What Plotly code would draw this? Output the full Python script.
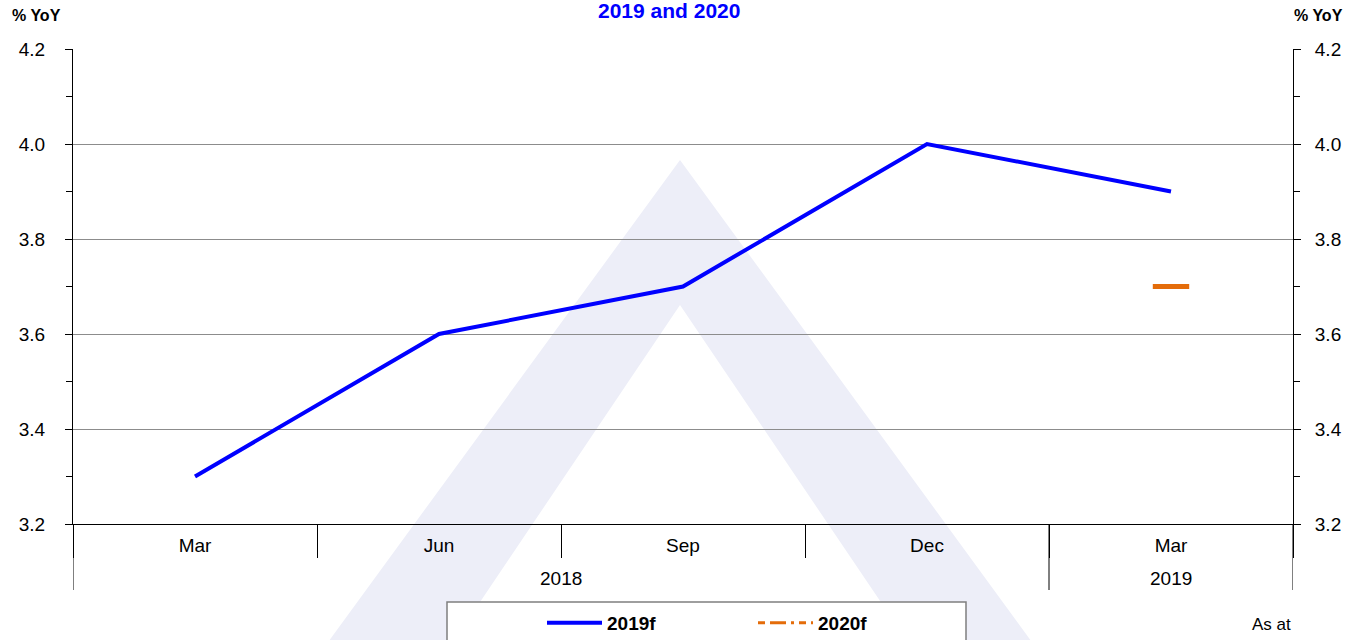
import plotly.graph_objects as go

years = ["2018", "2018", "2018", "2018", "2019"]
quarters = ["Mar", "Jun", "Sep", "Dec", "Mar"]
f2019 = [3.3, 3.6, 3.7, 4.0, 3.9]
f2020 = [None, None, None, None, 3.7]
y_ticks = [3.2, 3.4, 3.6, 3.8, 4.0, 4.2]

BLUE = "#0000FF"
ORANGE = "#E46C0A"
FONT = "Liberation Sans, Arial, sans-serif"

def px_x(p):
    return (p - 73) / 1220.0

def px_y(p):
    return (524 - p) / 475.0

cats = [q + " " + y for q, y in zip(quarters, years)]

fig = go.Figure()
fig.add_trace(go.Scatter(x=cats, y=f2019, name="2019f", mode="lines",
                         line=dict(color=BLUE, width=4)))
fig.add_trace(go.Scatter(x=cats, y=f2020, name="2020f", mode="lines",
                         line=dict(color=ORANGE, width=3, dash="7px,5px,16px,5px,3px,5px"),
                         legendgroup="f20", yaxis="y2"))
fig.add_trace(go.Scatter(x=cats, y=f2020, name="2020f", mode="markers",
                         marker=dict(symbol="line-ew", size=26, color=ORANGE,
                                     line=dict(color=ORANGE, width=5)),
                         legendgroup="f20", showlegend=False, yaxis="y2"))

# watermark chevron (decorative background)
wm = "M {a},{b} L {c},{d} L {e},{d} L {a},{f} L {g},{d} L {h},{d} Z".format(
    a=px_x(680), b=px_y(160), c=px_x(315), d=px_y(660), e=px_x(441), f=px_y(305),
    g=px_x(920), h=px_x(1045))

shapes = [
    dict(type="path", path=wm, xref="paper", yref="paper", fillcolor="#EDEEF8",
         line=dict(width=0), layer="below"),
    dict(type="rect", xref="paper", yref="paper", x0=px_x(447), x1=px_x(966),
         y0=px_y(602), y1=px_y(660), fillcolor="white",
         line=dict(color="#7F7F7F", width=1.5), layer="below"),
]

# year group labels and dividers derived from the category lists
annotations = []
groups = []
for i, yr in enumerate(years):
    if not groups or groups[-1][0] != yr:
        groups.append([yr, i, i])
    else:
        groups[-1][2] = i
bounds = set()
for yr, i0, i1 in groups:
    annotations.append(dict(text=yr, x=(i0 + i1) / 2.0, xref="x", y=px_y(578), yref="paper",
                            showarrow=False, xanchor="center", yanchor="middle",
                            font=dict(family=FONT, size=19, color="black")))
    bounds.add(i0 - 0.5)
    bounds.add(i1 + 0.5)
for b in sorted(bounds):
    shapes.append(dict(type="line", xref="x", yref="paper", x0=b, x1=b, y0=0, y1=px_y(590),
                       line=dict(color="black", width=1)))

yax = dict(range=[3.2, 4.2], tickvals=y_ticks,
           ticktext=["%.1f" % v for v in y_ticks],
           ticks="outside", ticklen=7, tickcolor="black", tickwidth=1,
           minor=dict(ticks="outside", dtick=0.1, ticklen=6, tickcolor="black", showgrid=False),
           showline=True, linecolor="black", linewidth=1, automargin=False,
           tickfont=dict(family=FONT, size=19, color="black"), zeroline=False)

annotations += [
    dict(text="<b>2019 and 2020</b>", x=px_x(669), y=px_y(10), xref="paper", yref="paper",
         showarrow=False, xanchor="center", yanchor="middle",
         font=dict(family=FONT, size=21, color=BLUE)),
    dict(text="<b>% YoY</b>", x=px_x(36), y=px_y(16), xref="paper", yref="paper",
         showarrow=False, xanchor="center", yanchor="middle",
         font=dict(family=FONT, size=16, color="black")),
    dict(text="<b>% YoY</b>", x=px_x(1318), y=px_y(16), xref="paper", yref="paper",
         showarrow=False, xanchor="center", yanchor="middle",
         font=dict(family=FONT, size=16, color="black")),
    dict(text="As at", x=px_x(1271), y=px_y(624), xref="paper", yref="paper",
         showarrow=False, xanchor="center", yanchor="middle",
         font=dict(family=FONT, size=17, color="black")),
]

fig.update_layout(
    width=1364, height=640,
    margin=dict(l=73, r=71, t=49, b=116, autoexpand=False),
    paper_bgcolor="white", plot_bgcolor="rgba(0,0,0,0)",
    font=dict(family=FONT, color="black"),
    showlegend=True,
    shapes=shapes,
    xaxis=dict(type="category", tickson="boundaries", ticks="outside", ticklen=33,
               tickvals=cats, ticktext=quarters, range=[-0.5, len(cats) - 0.5],
               tickcolor="black", showline=True, linecolor="black", linewidth=1,
               automargin=False, ticklabelstandoff=4,
               tickfont=dict(family=FONT, size=19, color="black"), showgrid=False),
    yaxis=dict(**yax, side="left", showgrid=True, gridcolor="#8C8C8C", gridwidth=1,
               ticklabelstandoff=16),
    yaxis2=dict(**yax, side="right", overlaying="y", showgrid=False, ticklabelstandoff=10),
    legend=dict(orientation="h", x=px_x(542), y=(640 - 623) / 640.0, xref="paper",
                yref="container", xanchor="left", yanchor="middle",
                bgcolor="rgba(0,0,0,0)", borderwidth=0, entrywidth=141, entrywidthmode="pixels",
                itemwidth=55,
                font=dict(family=FONT, size=19, color="black", weight="bold")),
    annotations=annotations,
)

fig.write_html("out.html", config={"displayModeBar": False},
               post_script="document.body.style.margin='0';")
